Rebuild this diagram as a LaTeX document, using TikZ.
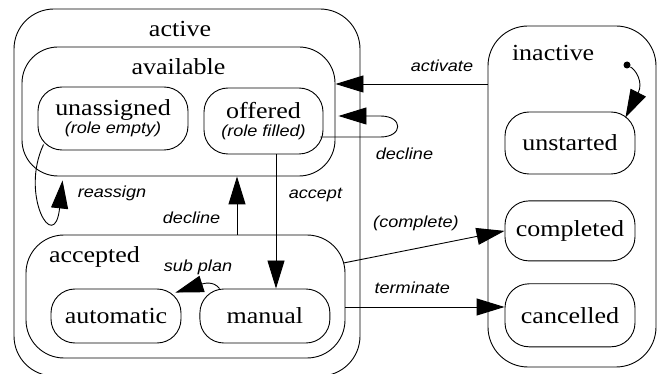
\documentclass[tikz,border=0pt]{standalone}
\usepackage{fontspec}
\setmainfont{Liberation Serif}[FakeStretch=1.13]
\setsansfont{Liberation Sans}[FakeStretch=1.13]
\usetikzlibrary{arrows.meta,positioning}
\newcommand{\statefont}{\fontsize{23}{18}\selectfont}
\newcommand{\lblfont}{\sffamily\itshape\fontsize{16}{18}\selectfont}

\begin{document}
\begin{tikzpicture}[x=1pt, y=-1pt, line width=0.9pt]
  \tikzstyle{super} = [rectangle, rounded corners=40pt, draw=black, inner sep=0pt]
  \tikzstyle{state} = [rectangle, rounded corners=24pt, minimum width=130pt, text centered, draw=black, inner sep=0pt, font=\statefont]
  \tikzstyle{title} = [inner sep=0pt, anchor=base, font=\statefont]
  \tikzstyle{lbl} = [font=\lblfont]

  \tikzstyle{arrow} = [-{Triangle[length=28pt, width=17pt]}]

  \useasboundingbox (0,0) rectangle (659,374);

  % super states
  \node (active) [super, minimum width=346pt, minimum height=367pt] at (187,192.5) {};
  \node (available) [super, rounded corners=36pt, minimum width=313pt, minimum height=129pt] at (178.5,111.5) {};
  \node (accepted) [super, rounded corners=38pt, minimum width=319pt, minimum height=123pt] at (185.5,296.5) {};
  \node (inactive) [super, minimum width=168pt, minimum height=341pt] at (572,196.5) {};

  \node (activeTitle) [title] at ([shift={(-7,28)}]active.north) {active};
  \node (availableTitle) [title] at ([shift={(0,28)}]available.north) {available};
  \node (acceptedTitle) [title, anchor=base west] at ([shift={(23,28)}]accepted.north west) {accepted};
  \node (inactiveTitle) [title, anchor=base west] at ([shift={(24,35)}]inactive.north west) {inactive};

  % states
  \node (unassigned) [state, minimum width=150pt, minimum height=63pt, align=center] at (113,118.5) {unassigned\\{\lblfont (role empty)}};
  \node (offered) [state, minimum width=119pt, minimum height=66pt, align=center] at (263.5,121) {offered\\{\lblfont (role filled)}};
  \node (automatic) [state, minimum height=54pt] at (116,316) {automatic};
  \node (manual) [state, minimum height=54pt, right=18pt of automatic] {manual};
  \node (unstarted) [state, minimum height=62pt] at (570,143) {unstarted};
  \node (completed) [state, minimum height=60pt, below=26pt of unstarted] {completed};
  \node (cancelled) [state, minimum height=63pt, below=22pt of completed] {cancelled};
  \node (init) [circle, fill=black, inner sep=0pt, minimum size=7pt] at (627,65) {};

  % transitions
  \draw [arrow] (init) .. controls +(9,5) and +(18,-35) .. ([shift={(-10,6)}]unstarted.north east);
  \draw [arrow] ([shift={(0,-112.5)}]inactive.west) -- node (activateLbl) [lbl, above=9pt, pos=0.3] {activate} ([shift={(0,-27.5)}]available.east);
  % loop back to the super state
  \draw [arrow] ([shift={(-3,16)}]offered.east) -- ++(60,0) .. controls +(23,0) and +(23,0) .. ++(0,-21) -- ([shift={(3,4.5)}]available.east);
  \node (declineLoopLbl) [lbl, anchor=base west] at (372,160) {decline};
  \draw [arrow] ([shift={(6,-6)}]unassigned.south west) .. controls +(-24,51) and +(-8,75) .. ([shift={(41,4)}]available.south west);
  \node (reassignLbl) [lbl, anchor=base west] at (74,198) {reassign};

  \coordinate (declineFoot) at ([xshift=51.5pt]accepted.north);
  \draw [arrow] (declineFoot) -- node (declineLbl) [lbl, left=13pt, pos=0.28] {decline} (declineFoot |- available.south);
  \coordinate (acceptHead) at ([xshift=12.5pt]offered.south);
  \draw [arrow] (acceptHead) -- node (acceptLbl) [lbl, right=9pt, pos=0.3] {accept} (acceptHead |- manual.north);

  \draw [arrow] ([xshift=20pt]manual.north west) .. controls +(-6,-8) and +(28,-9) .. ([shift={(-6,4)}]automatic.north east);
  \node (subPlanLbl) [lbl, anchor=base west] at (160,271.5) {sub plan};

  \draw [arrow] ([shift={(-2,-33.5)}]accepted.east) -- node (completeLbl) [lbl, above=14pt, pos=0.45] {(complete)} (completed.west);
  \coordinate (terminateFoot) at ([yshift=-10.5pt]accepted.east);
  \draw [arrow] (terminateFoot) -- node (terminateLbl) [lbl, above=10pt, pos=0.42] {terminate} (terminateFoot -| cancelled.west);
\end{tikzpicture}
\end{document}
